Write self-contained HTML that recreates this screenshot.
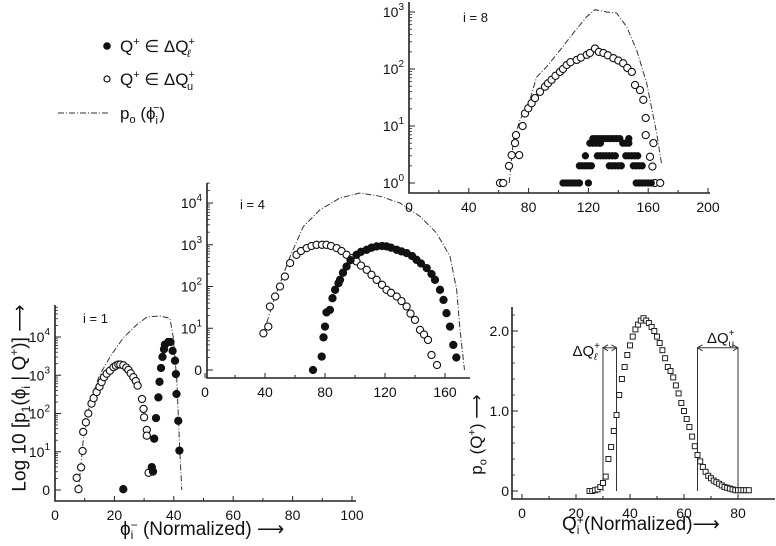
<!DOCTYPE html>
<html><head><meta charset="utf-8">
<style>
body{margin:0;background:#fff;}
svg{display:block;font-family:"Liberation Sans",sans-serif;}
.ss{display:inline-block;vertical-align:middle;line-height:10px;font-size:12px;text-align:left}
</style></head>
<body>
<svg id="fig" width="776" height="546" viewBox="0 0 776 546" xmlns="http://www.w3.org/2000/svg">
<g id="legend" font-size="17" fill="#111">
 <circle cx="107" cy="46" r="3.8" fill="#111"/>
 <text x="120" y="52">Q<tspan dy="-7" font-size="11">+</tspan><tspan dy="7"> ∈ ΔQ</tspan><tspan dy="-7" font-size="11">+</tspan><tspan dx="-8" dy="12" font-size="11" font-style="italic">ℓ</tspan></text>
 <circle cx="107" cy="79" r="3" fill="none" stroke="#111" stroke-width="1.2"/>
 <text x="120" y="85">Q<tspan dy="-7" font-size="11">+</tspan><tspan dy="7"> ∈ ΔQ</tspan><tspan dy="-7" font-size="11">+</tspan><tspan dx="-8" dy="12" font-size="11">u</tspan></text>
 <line x1="58" y1="113" x2="108" y2="113" stroke="#333" stroke-width="1" stroke-dasharray="6,2,1,2"/>
 <text x="120" y="119">p<tspan dy="4" font-size="11">o</tspan><tspan dy="-4"> (ϕ</tspan><tspan dy="5" font-size="11">i</tspan><tspan dx="-5" dy="-13" font-size="11">−</tspan><tspan dy="8">)</tspan></text>
</g>
<g id="plots"></g>
</svg>
<script>
// ---------- data ----------
const p1OpenX=[7.9,7.3,8.8,9.3,9.5,10.4,11.2,12.3,13,14,15,15.7,16.5,17.4,18.5,19.7,20.5,21.3,22,23,24,24.7,25.5,26.4,27.2,27.8,29.3,29.8,30,30.9,30.9,31.5];
const p1OpenY=[0.02,0.32,0.59,1.02,1.52,1.77,2.0,2.26,2.4,2.56,2.7,2.82,2.95,3.04,3.12,3.21,3.25,3.28,3.28,3.26,3.2,3.14,3.05,2.95,2.85,2.73,2.38,2.12,1.9,1.57,1.42,0.45];
const p1FillX=[23,32.6,33,33.4,34,34.8,35.2,35.7,36.2,36.7,37,38.1,38.9,39.6,40.4,40.7,40.9,41.5,41.9];
const p1FillY=[0.02,0.6,0.48,1.34,1.88,2.42,2.83,3.19,3.48,3.68,3.8,3.87,3.87,3.64,3.38,3.03,2.51,1.81,1.03];
const p1LineX=[7.9,9.5,11.7,15,18.7,23,27.5,30.9,35.3,38.7,39.8,41,42,42.7];
const p1LineY=[0,1.3,2.26,3,3.5,3.98,4.32,4.52,4.55,4.49,4.0,2.87,1.1,0];
const p4OpenX=[38.9,42.2,43.3,46.7,50,53.3,56.7,61,64,67.8,71,74.4,78,81,84,87.8,91,94.4,98,101,104,107.8,111,114.4,118,121,124,127.8,131,134.4,137,140,143.3,146,148.7,151,154.7];
const p4OpenY=[0.88,1.04,1.52,1.76,2.0,2.24,2.56,2.76,2.85,2.92,2.97,3.0,3.0,3.0,2.97,2.92,2.85,2.76,2.68,2.6,2.5,2.4,2.28,2.16,2.04,1.92,1.85,1.76,1.65,1.52,1.35,1.2,0.96,0.85,0.72,0.36,0.12];
const p4FillX=[72,77.8,79,80,81,83.3,85,86.7,89,90,92,94.4,97,101,104,107.8,111,114.4,118,121,124,127.8,131,134.4,138,141,144,147.8,151,153.3,156.7,159,161,163.3,165.5,167.5];
const p4FillY=[0,0.32,0.78,1.04,1.38,1.44,1.72,1.92,2.08,2.16,2.33,2.48,2.63,2.76,2.83,2.88,2.93,2.96,2.97,2.96,2.93,2.88,2.84,2.8,2.73,2.64,2.55,2.44,2.3,2.16,1.92,1.68,1.36,1.04,0.6,0.3];
const p4LineX=[38.9,46.7,56.7,65.6,76.7,90,103.3,116.7,130,143.3,154.4,163.3,167.8,170,173];
const p4LineY=[0.88,1.76,2.72,3.44,3.84,4.12,4.24,4.16,4.0,3.68,3.28,2.72,1.92,0.96,0];
const p8OpenX=[60.9,63,66.9,68.7,70.9,71.6,73.7,76,77.6,79.8,82,84.3,87.6,91,93,95.4,98,101,103,105.5,108,112.2,115,118.9,121,124.4,127,130,133,136.7,140,143.3,146,149,151.2,154.5,156.7,158.3,158.3,161.2,162.8,163.5,164.5,168];
const p8OpenY=[0,0,0.3,0.49,0.7,0.84,0.49,1.0,1.22,1.31,1.4,1.49,1.6,1.69,1.75,1.81,1.88,1.95,2.0,2.07,2.12,2.16,2.2,2.25,2.28,2.36,2.3,2.28,2.24,2.19,2.15,2.1,2.02,1.95,1.72,1.63,1.46,1.14,0.84,0.46,0.29,0.7,0,0];
const p8FillX=[103,105,107,109,111,113,114,120,152,154,156,158,160,162,114,116,118,120,122,134,136,138,140,142,150,152,154,156,118,126,128,130,132,134,136,138,145,147,149,151,153,121,123,125,127,128,143,145,147,123,125,127,129,131,133,135,137,139,141,147];
const p8FillCount=[1,1,1,1,1,1,1,1,1,1,1,1,1,1,2,2,2,2,2,2,2,2,2,2,2,2,2,2,3,3,3,3,3,3,3,3,3,3,3,3,3,5,5,5,5,5,5,5,5,6,6,6,6,6,6,6,6,6,6,6];
const p8LineX=[67,69.8,74.2,80.9,85.4,92.1,101,109.9,118.9,124.4,132.2,138.9,145.6,152.3,159,165.7,169];
const p8LineY=[0,0.75,1.1,1.46,1.86,2.04,2.33,2.63,2.92,3.04,3.0,2.98,2.74,2.33,1.75,0.87,0.32];
const qX=[25,26,27,28,29,30,31,32,33,34,35,36,37,38,39,40,41,42,43,44,45,46,47,48,49,50,51,52,53,54,55,56,57,58,59,60,61,62,63,64,65,66,67,68,69,70,71,72,73,74,75,76,77,78,79,80,81,82,83,84];
const qY=[0,0,0.01,0.02,0.05,0.1,0.18,0.4,0.55,0.75,0.95,1.2,1.4,1.55,1.7,1.82,1.93,2.02,2.08,2.13,2.16,2.13,2.1,2.05,2.0,1.93,1.85,1.76,1.66,1.55,1.5,1.42,1.32,1.22,1.1,1.0,0.9,0.8,0.68,0.56,0.45,0.37,0.3,0.24,0.19,0.16,0.13,0.11,0.09,0.07,0.05,0.04,0.03,0.02,0.01,0.01,0.01,0.01,0.01,0.01];
const bandX=[30,35,65,80];
const xTicks1=[0,20,40,60,80,100];
const xTicks4=[0,40,80,120,160];
const xTicks8=[0,40,80,120,160,200];
const xTicksQ=[0,20,40,60,80];
const logTicks1=[0,1,2,3,4];
const logTicks4=[0,1,2,3,4];
const logTicks8=[0,1,2,3];
const qYTicks=[0,1,2];

// ---------- drawing ----------
const NS='http://www.w3.org/2000/svg';
const root=document.getElementById('plots');
function mk(tag,attrs,parent){const e=document.createElementNS(NS,tag);for(const k in attrs)e.setAttribute(k,attrs[k]);(parent||root).appendChild(e);return e;}
function lin(d0,d1,p0,p1){return v=>p0+(v-d0)*(p1-p0)/(d1-d0);}

function panel(cfg){
 const g=mk('g',{});
 
 
 const sx=cfg.sx, sy=cfg.sy;
 const ax=mk('path',{d:`M${cfg.x0},${cfg.yTop} V${cfg.y0} H${cfg.xEnd}`,fill:'none',stroke:'#222','stroke-width':1.6},g);
 
 
 cfg.xTicks.forEach((t,i)=>{
  const X=sx(t);
  mk('line',{x1:X,x2:X,y1:cfg.y0,y2:cfg.y0-5,stroke:'#222','stroke-width':1},g);
  if(i<cfg.xTicks.length-1){const Xm=sx((t+cfg.xTicks[i+1])/2);mk('line',{x1:Xm,x2:Xm,y1:cfg.y0,y2:cfg.y0-3,stroke:'#222','stroke-width':1},g);}
  const tx=mk('text',{x:X,y:cfg.y0+19,'text-anchor':'middle','font-size':14,fill:'#111'},g);
  tx.textContent=t;
  
  
 });
 if(cfg.log){
  cfg.yTicks.forEach((t,i)=>{
   const Y=sy(t);
   mk('line',{x1:cfg.x0,x2:cfg.x0+6,y1:Y,y2:Y,stroke:'#222','stroke-width':1},g);
   for(let m=2;m<10;m++){const Ym=sy(t+Math.log10(m));if(Ym>cfg.yTop)mk('line',{x1:cfg.x0,x2:cfg.x0+3,y1:Ym,y2:Ym,stroke:'#222','stroke-width':0.8},g);}
   const tx=mk('text',{x:cfg.x0-5,y:Y+5,'text-anchor':'end','font-size':14,fill:'#111'},g);
   if(t===0&&cfg.zeroLabel){tx.textContent='0';}
   else{tx.textContent='10';const s=mk('tspan',{dy:-7,'font-size':10},tx);s.textContent=t;}
   
   
  });
 }
 return g;
}
function dashLine(g,xs,ys,sx,sy,name){
 const d=xs.map((x,i)=>(i?'L':'M')+sx(x).toFixed(1)+','+sy(ys[i]).toFixed(1)).join(' ');
 const p=mk('path',{d:d,fill:'none',stroke:'#333','stroke-width':1,'stroke-dasharray':'6,2,1,2'},g);
 
 
}
function dots(g,xs,ys,sx,sy,filled,name,r){
 xs.forEach((x,i)=>{
  const c=mk('circle',{cx:sx(x).toFixed(1),cy:sy(ys[i]).toFixed(1),r:r,fill:filled?'#111':'#fff',stroke:'#111','stroke-width':1.1},g);
  
  
 });
}

{const sx=lin(0,100,55,352), sy=lin(0,4,490,337);
 const g=panel({name:'panel-i1',x0:55,y0:501,yTop:305,xEnd:356,sx,sy,xTicks:xTicks1,yTicks:logTicks1,log:true,zeroLabel:true});
 dashLine(g,p1LineX,p1LineY,sx,sy,'p0-line-i1');
 dots(g,p1OpenX,p1OpenY,sx,sy,false,'open-point-i1',3.6);
 dots(g,p1FillX,p1FillY,sx,sy,true,'filled-point-i1',3.6);
 const t=mk('text',{x:83,y:323,'font-size':13,fill:'#111'},g);t.textContent='i = 1';
 }
{const sx=lin(0,120,205,385), sy=lin(0,4,370,203);
 const g=panel({name:'panel-i4',x0:207,y0:378,yTop:183,xEnd:470,sx,sy,xTicks:xTicks4,yTicks:logTicks4,log:true,zeroLabel:true});
 dashLine(g,p4LineX,p4LineY,sx,sy,'p0-line-i4');
 dots(g,p4OpenX,p4OpenY,sx,sy,false,'open-point-i4',3.6);
 dots(g,p4FillX,p4FillY,sx,sy,true,'filled-point-i4',3.6);
 const t=mk('text',{x:240,y:209,'font-size':13,fill:'#111'},g);t.textContent='i = 4';
 }
{const sx=lin(0,200,409,708), sy=lin(0,3,183,12);
 const g=panel({name:'panel-i8',x0:409,y0:193,yTop:2,xEnd:710,sx,sy,xTicks:xTicks8,yTicks:logTicks8,log:true,zeroLabel:false});
 dashLine(g,p8LineX,p8LineY,sx,sy,'p0-line-i8');
 dots(g,p8OpenX,p8OpenY,sx,sy,false,'open-point-i8',3.6);
 dots(g,p8FillX,p8FillCount.map(c=>Math.log10(c)),sx,sy,true,'filled-point-i8',3.1);
 const t=mk('text',{x:463,y:22,'font-size':13,fill:'#111'},g);t.textContent='i = 8';
 }
{const sx=lin(0,80,522,738), sy=lin(0,2,491,331);
 const g=panel({name:'panel-p0-q',x0:512,y0:499,yTop:307,xEnd:775,sx,sy,xTicks:xTicksQ,yTicks:[],log:false});
 qYTicks.forEach(t=>{const Y=sy(t);mk('line',{x1:512,x2:518,y1:Y,y2:Y,stroke:'#222'},g);
  const tx=mk('text',{x:509,y:Y+5,'text-anchor':'end','font-size':14,fill:'#111'},g);tx.textContent=t===0?'0':t.toFixed(1);
  });
 [0.2,0.4,0.6,0.8,1.2,1.4,1.6,1.8,2.2].forEach(v=>{const Y=sy(v);mk('line',{x1:512,x2:515,y1:Y,y2:Y,stroke:'#222','stroke-width':0.8},g);});
 bandX.forEach(b=>{const l=mk('line',{x1:sx(b),x2:sx(b),y1:sy(0),y2:sy(1.79),stroke:'#333','stroke-width':1},g);
  });
 const ya=sy(1.79);
 [[bandX[0],bandX[1]],[bandX[2],bandX[3]]].forEach(([a,b])=>{
  mk('line',{x1:sx(a),x2:sx(b),y1:ya,y2:ya,stroke:'#333','stroke-width':1},g);
  mk('path',{d:`M${sx(a)+5},${ya-3} L${sx(a)},${ya} L${sx(a)+5},${ya+3} M${sx(b)-5},${ya-3} L${sx(b)},${ya} L${sx(b)-5},${ya+3}`,fill:'none',stroke:'#333'},g);});
 qX.forEach((x,i)=>{const r=mk('rect',{x:(sx(x)-2.5).toFixed(1),y:(sy(qY[i])-2.5).toFixed(1),width:5,height:5,fill:'#fff',stroke:'#222','stroke-width':1},g);
  });
 const t1=mk('text',{x:600,y:356,'font-size':15,fill:'#111','text-anchor':'end'},g);
 t1.innerHTML='ΔQ<tspan dy="-7" font-size="10">+</tspan><tspan dx="-6" dy="11" font-size="10" font-style="italic">ℓ</tspan>';
 
 const t2=mk('text',{x:707,y:343,'font-size':15,fill:'#111'},g);
 t2.innerHTML='ΔQ<tspan dy="-7" font-size="10">+</tspan><tspan dx="-6" dy="11" font-size="10">u</tspan>';
 }
</script>
<div style="position:absolute;left:0;top:0;width:776px;height:546px;pointer-events:none">
 <div style="position:absolute;left:-90px;top:380px;width:220px;text-align:center;transform:rotate(-90deg);font:19px 'Liberation Sans',sans-serif;color:#111;white-space:nowrap;line-height:24px">Log 10 [p<sub style="font-size:12px">1</sub>(ϕ<sub style="font-size:12px">i</sub> | Q<sup style="font-size:12px">+</sup>)] ⟶</div>
 <div style="position:absolute;left:120px;top:518px;font:19px 'Liberation Sans',sans-serif;color:#111;white-space:nowrap;line-height:24px">ϕ<span class="ss">−<br>i</span> (Normalized) ⟶</div>
 <div style="position:absolute;left:418px;top:418px;width:120px;text-align:center;transform:rotate(-90deg);font:17px 'Liberation Sans',sans-serif;color:#111;white-space:nowrap;line-height:22px">p<sub style="font-size:11px">o</sub> (Q<sup style="font-size:11px">+</sup>) ⟶</div>
 <div style="position:absolute;left:562px;top:513px;font:19px 'Liberation Sans',sans-serif;color:#111;white-space:nowrap;line-height:24px">Q<span class="ss">+<br>i</span>(Normalized)⟶</div>
</div>
</body></html>
